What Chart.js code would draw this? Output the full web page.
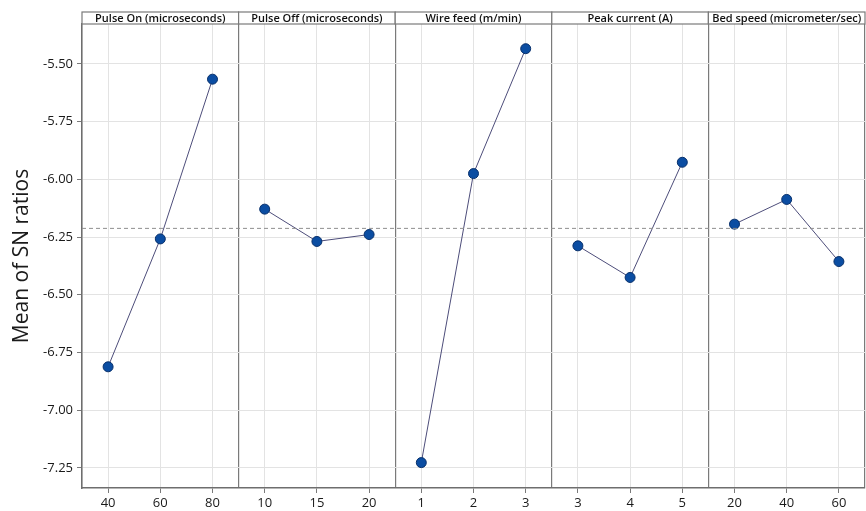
<!DOCTYPE html>
<html>
<head>
<meta charset="utf-8">
<script src="https://cdn.jsdelivr.net/npm/chart.js@4"></script>
<style>
  html, body { margin: 0; padding: 0; background: #fff; }
  canvas { display: block; }
</style>
</head>
<body>
<canvas id="main-effects" width="866" height="511"></canvas>
<script>
// Main effects plot for SN ratios
const factors = ['Pulse On (microseconds)', 'Pulse Off (microseconds)', 'Wire feed (m/min)', 'Peak current (A)', 'Bed speed (micrometer/sec)'];
const levels = [['40', '60', '80'], ['10', '15', '20'], ['1', '2', '3'], ['3', '4', '5'], ['20', '40', '60']];

const pulseOn = [-6.812, -6.258, -5.566];
const pulseOff = [-6.129, -6.269, -6.239];
const wireFeed = [-7.227, -5.975, -5.434];
const peakCurrent = [-6.288, -6.425, -5.926];
const bedSpeed = [-6.194, -6.087, -6.356];
const seriesValues = [pulseOn, pulseOff, wireFeed, peakCurrent, bedSpeed];

const yTicks = [-7.25, -7.00, -6.75, -6.50, -6.25, -6.00, -5.75, -5.50];

// overall mean of all SN ratios (dashed reference)
const allVals = seriesValues.flat();
const grandMean = allVals.reduce((a, b) => a + b, 0) / allVals.length;

const FONT = "'Open Sans', 'Noto Sans', sans-serif";
const DIVIDER = '#7a7a7a';

const datasets = seriesValues.map((vals, i) => ({
  label: factors[i],
  data: vals.map((v, j) => ({ x: i * 3 + j + 0.5, y: v })),
  borderColor: '#4d4d7a',
  borderWidth: 1,
  pointRadius: 5,
  pointHoverRadius: 5,
  pointBackgroundColor: '#0b4da2',
  pointBorderColor: '#08306b',
  pointBorderWidth: 1,
  tension: 0,
}));

datasets.unshift({
  label: 'mean',
  data: [{ x: 0, y: grandMean }, { x: factors.length * 3, y: grandMean }],
  borderColor: '#8f8f8f',
  borderWidth: 1,
  borderDash: [4, 3],
  pointRadius: 0,
});

// header strips above each panel
const panelHeaders = {
  id: 'panelHeaders',
  afterDraw(chart) {
    const { ctx, chartArea, scales } = chart;
    const xs = scales.x;
    ctx.save();
    factors.forEach((name, i) => {
      const x0 = xs.getPixelForValue(i * 3);
      const x1 = xs.getPixelForValue(i * 3 + 3);
      const y0 = 12, y1 = chartArea.top;
      ctx.fillStyle = '#ffffff';
      ctx.fillRect(x0, y0, x1 - x0, y1 - y0);
      ctx.strokeStyle = DIVIDER;
      ctx.lineWidth = 1.2;
      ctx.strokeRect(x0, y0, x1 - x0, y1 - y0);
      ctx.fillStyle = '#111';
      ctx.font = `600 11px ${FONT}`;
      ctx.textAlign = 'center';
      ctx.textBaseline = 'middle';
      ctx.fillText(name, (x0 + x1) / 2, (y0 + y1) / 2 + 0.5);
    });
    ctx.restore();
  }
};

const isDivider = (v) => Number.isInteger(v);

new Chart(document.getElementById('main-effects'), {
  type: 'line',
  data: { datasets },
  plugins: [panelHeaders],
  options: {
    responsive: false,
    animation: false,
    layout: { autoPadding: false, padding: { top: 24, right: 1, left: 0, bottom: 0 } },
    plugins: {
      legend: { display: false },
      tooltip: { enabled: false },
    },
    scales: {
      x: {
        type: 'linear',
        min: 0,
        max: factors.length * 3,
        afterBuildTicks: (axis) => {
          const t = [];
          for (let i = 0; i <= factors.length; i++) {
            t.push({ value: i * 3 });
            if (i < factors.length) levels[i].forEach((_, j) => t.push({ value: i * 3 + j + 0.5 }));
          }
          axis.ticks = t;
        },
        afterFit: (s) => { s.height = 23; s.paddingRight = 0; s.paddingLeft = 0; },
        border: { display: true, color: '#6e6e6e', width: 1.5 },
        grid: {
          color: (c) => (c.tick && isDivider(c.tick.value)) ? DIVIDER : '#e3e3e3',
          lineWidth: (c) => (c.tick && isDivider(c.tick.value)) ? 1.2 : 1,
          tickColor: (c) => (c.tick && isDivider(c.tick.value)) ? 'rgba(0,0,0,0)' : '#7a7a7a',
          tickLength: 5,
        },
        ticks: {
          autoSkip: false,
          maxRotation: 0,
          padding: 2,
          color: '#1a1a1a',
          font: { family: FONT, size: 13 },
          callback: (value) => {
            if (isDivider(value)) return '';
            const p = Math.floor(value / 3);
            return levels[p][Math.round(value - p * 3 - 0.5)];
          }
        }
      },
      y: {
        min: -7.337,
        max: -5.327,
        afterBuildTicks: (axis) => { axis.ticks = yTicks.map(v => ({ value: v })); },
        afterFit: (s) => { s.width = 82; },
        border: { display: true, color: '#6e6e6e', width: 1.5 },
        grid: { color: '#e3e3e3', tickColor: '#7a7a7a', tickLength: 5 },
        ticks: {
          padding: 4,
          color: '#1a1a1a',
          font: { family: FONT, size: 13 },
          callback: (v) => v.toFixed(2),
        },
        title: {
          display: true,
          text: 'Mean of SN ratios',
          color: '#1a1a1a',
          font: { family: FONT, size: 21 },
          padding: { top: 9, bottom: 0 },
        }
      }
    }
  }
});
</script>
</body>
</html>
